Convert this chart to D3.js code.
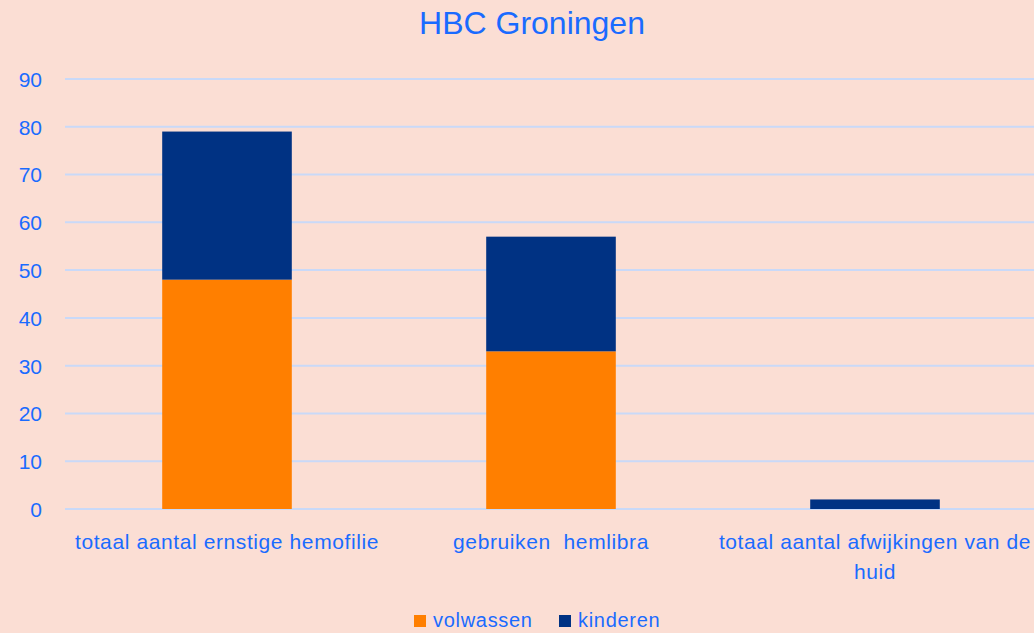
<!DOCTYPE html>
<html>
<head>
<meta charset="utf-8">
<script src="https://cdn.jsdelivr.net/npm/d3@7/dist/d3.min.js"></script>
<style>
  html, body { margin: 0; padding: 0; background: #FBDED4; }
  svg { display: block; }
  text { font-family: "Liberation Sans", Arial, sans-serif; fill: #1A6BFF; white-space: pre; }
</style>
</head>
<body>
<svg id="chart" width="1034" height="633"></svg>
<script>
const title = "HBC Groningen";
const categories = [
  ["totaal aantal ernstige hemofilie"],
  ["gebruiken  hemlibra"],
  ["totaal aantal afwijkingen van de", "huid"]
];
const seriesNames = ["volwassen", "kinderen"];
const volwassen = [48, 33, 0];
const kinderen = [31, 24, 2];
const yTicks = [0, 10, 20, 30, 40, 50, 60, 70, 80, 90];
const colors = ["#FF7F00", "#003283"];

const svg = d3.select("#chart");
const W = 1034, H = 633;
const m = { left: 65, right: -3, top: 79, bottom: 124 };
const x = d3.scaleBand().domain(d3.range(categories.length)).range([m.left, W - m.right]).paddingInner(0.6).paddingOuter(0.3);
const y = d3.scaleLinear().domain([0, 90]).range([H - m.bottom, m.top]);

svg.append("rect").attr("width", W).attr("height", H).attr("fill", "#FBDED4");

// gridlines
svg.append("g").selectAll("line").data(yTicks).join("line")
  .attr("x1", m.left).attr("x2", W)
  .attr("y1", d => y(d)).attr("y2", d => y(d))
  .attr("stroke", "#C9D9F8").attr("stroke-width", 2);

// y labels
const yAxis = d3.axisLeft(y).tickValues(yTicks).tickSize(0).tickPadding(0);
const ya = svg.append("g").attr("transform", "translate(42,0)").call(yAxis);
ya.select(".domain").remove();
ya.selectAll("text").attr("font-size", 21).attr("font-family", "Liberation Sans, Arial, sans-serif").attr("fill", "#1A6BFF").attr("dy", "0.35em");

// stacked bars
const rows = categories.map((c, i) => ({ i, volwassen: volwassen[i], kinderen: kinderen[i] }));
const stack = d3.stack().keys(seriesNames)(rows);
svg.append("g").selectAll("g").data(stack).join("g")
  .attr("fill", (d, k) => colors[k])
  .selectAll("rect").data(d => d).join("rect")
  .attr("x", d => x(d.data.i))
  .attr("width", x.bandwidth())
  .attr("y", d => y(d[1]))
  .attr("height", d => y(d[0]) - y(d[1]));

// x labels
const xl = svg.append("g");
categories.forEach((lines, i) => {
  const t = xl.append("text").attr("text-anchor", "middle").attr("font-size", 21)
    .attr("letter-spacing", 0.6)
    .attr("x", x(i) + x.bandwidth() / 2).attr("y", 549);
  lines.forEach((ln, j) => {
    t.append("tspan").attr("x", x(i) + x.bandwidth() / 2).attr("dy", j === 0 ? 0 : 30).text(ln);
  });
});

// title
svg.append("text").attr("x", 532).attr("y", 34).attr("text-anchor", "middle")
  .attr("font-size", 32).text(title);

// legend
const legendX = [414, 559];
const lg = svg.append("g");
seriesNames.forEach((s, k) => {
  lg.append("rect").attr("x", legendX[k]).attr("y", 615).attr("width", 12).attr("height", 12).attr("fill", colors[k]);
  lg.append("text").attr("x", legendX[k] + 19).attr("y", 627).attr("font-size", 20)
    .attr("letter-spacing", 0.7).text(s);
});
</script>
</body>
</html>
